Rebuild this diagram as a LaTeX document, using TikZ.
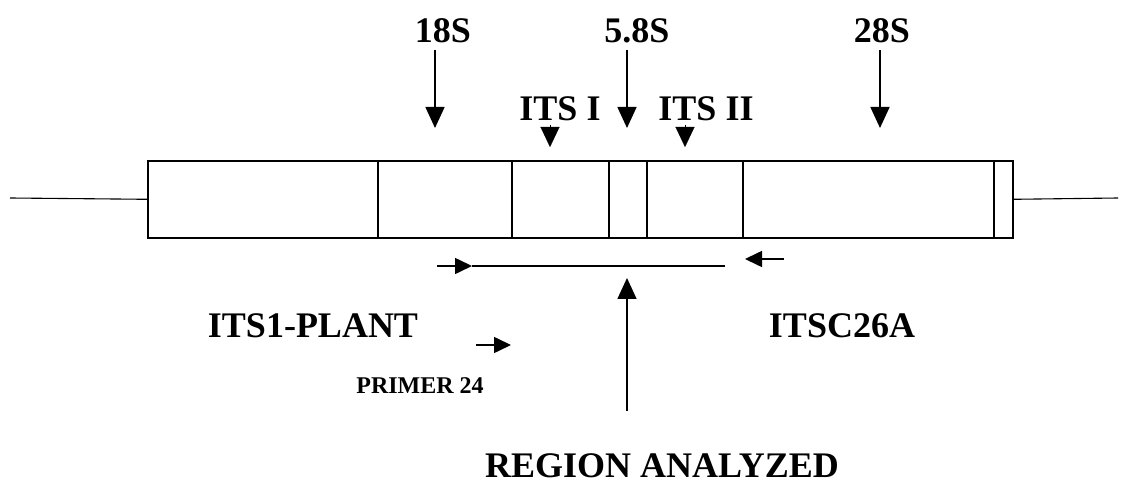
\documentclass[tikz,border=0pt]{standalone}
\usepackage{fontspec}
\setmainfont{Liberation Serif}
\usetikzlibrary{arrows.meta}
\begin{document}
\begin{tikzpicture}[x=1pt,y=-1pt,
  lbl/.style={font=\fontsize{36}{40}\selectfont\bfseries, inner sep=0pt, anchor=center},
  smalllbl/.style={font=\fontsize{24}{28}\selectfont\bfseries, inner sep=0pt, anchor=center},
  bigarrow/.style={line width=1.6pt, -{Triangle[length=21pt,width=19pt]}},
  primarrow/.style={line width=1.6pt, -{Triangle[length=17pt,width=16pt]}},
  tick/.style={line width=1.6pt},
  seg/.style={line width=1.6pt},
  flank/.style={line width=1.1pt}]
\useasboundingbox (0,0) rectangle (1128,494);
% gene box
\node[draw, line width=1.6pt, minimum width=865pt, minimum height=77pt, inner sep=0pt, anchor=north west] (gene) at (147,160) {};
\coordinate (lend) at (10,198);
\coordinate (rend) at (1118,198);
\draw[flank] (lend) -- (gene.west);
\draw[flank] (gene.east) -- (rend);
% internal boundaries
\foreach \xx in {378,512,609,647,743,994} {
  \draw[tick] (\xx,160) -- (\xx,237);
}
% top labels
\node[lbl] (s18) at (443,31) {18S};
\node[lbl] (s58) at (637,31) {5.8S};
\node[lbl] (s28) at (882,31) {28S};
\node[lbl] (its1) at (560,109) {ITS I};
\node[lbl] (its2) at (706,109) {ITS II};
\coordinate (a18s) at (435,50);  \coordinate (a18e) at (435,128);
\coordinate (a58s) at (627,50);  \coordinate (a58e) at (627,128);
\coordinate (a28s) at (880,50);  \coordinate (a28e) at (880,128);
\draw[bigarrow] (a18s) -- (a18e);
\draw[bigarrow] (a58s) -- (a58e);
\draw[bigarrow] (a28s) -- (a28e);
\coordinate (t1s) at (550,125); \coordinate (t1e) at (550,147);
\coordinate (t2s) at (685,125); \coordinate (t2e) at (685,147);
\draw[line width=0.1pt, -{Triangle[length=20pt,width=19pt]}] (t1s) -- (t1e);
\draw[line width=0.1pt, -{Triangle[length=20pt,width=19pt]}] (t2s) -- (t2e);
% region analyzed line with primers
\coordinate (p1s) at (437,266); \coordinate (p1e) at (472,266);
\coordinate (lineend) at (725,266);
\draw[seg] (p1e) -- (lineend);
\draw[primarrow] (p1s) -- (p1e);
\coordinate (p2s) at (784,259); \coordinate (p2e) at (745,259);
\draw[primarrow] (p2s) -- (p2e);
% lower labels
\node[lbl] (plant) at (313,326) {ITS1-PLANT};
\node[lbl] (c26) at (842,326) {ITSC26A};
\node[smalllbl] (p24) at (420,386) {PRIMER 24};
\node[lbl] (reg) at (662,466) {REGION ANALYZED};
\coordinate (p3s) at (476,345); \coordinate (p3e) at (511,345);
\draw[primarrow] (p3s) -- (p3e);
\coordinate (ras) at (627,411); \coordinate (rae) at (627,278);
\draw[bigarrow] (ras) -- (rae);
\end{tikzpicture}
\end{document}
